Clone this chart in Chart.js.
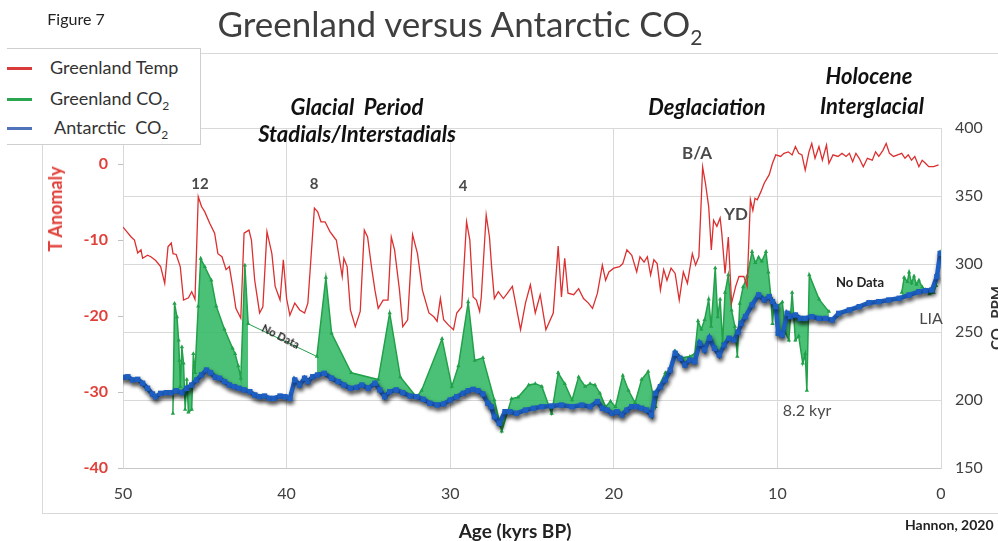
<!DOCTYPE html>
<html>
<head>
<meta charset="utf-8">
<script src="https://cdn.jsdelivr.net/npm/chart.js@4.4.1/dist/chart.umd.min.js"></script>
<style>
  body { margin: 0; background: #fff; }
  #wrap { position: relative; width: 998px; height: 541px; overflow: hidden; font-family: Lato, "Open Sans", sans-serif; }
  #chart { position: absolute; left: 0; top: 0; }
  .t { position: absolute; white-space: nowrap; transform: translate(-50%, -50%); color: #404040; }
  .hd { font-weight: bold; font-style: italic; font-size: 22px; color: #111; }
  .mk { font-size: 15px; font-weight: bold; color: #4a4a4a; }
  #frame { position: absolute; left: 42px; top: 53px; width: 960px; height: 459px; border-top: 1px solid #d9d9d9; border-left: 1px solid #d9d9d9; border-bottom: 1px solid #d9d9d9; }
  #legend { position: absolute; left: 7px; top: 48px; width: 193px; height: 95px; background: #fff; border: 1px solid #cfcfcf; border-left: none; }
  .lg { position: absolute; left: 0; height: 20px; font-size: 18px; color: #333; }
  .lg i { position: absolute; left: 0; top: 9px; width: 25px; height: 3px; }
  .lg span { position: absolute; left: 43px; top: -2px; white-space: nowrap; }
</style>
</head>
<body>
<div id="wrap">
  <div id="frame"></div>
  <canvas id="chart" width="998" height="541"></canvas>
  <div class="t" style="left:76px;top:18px;font-size:16px;color:#222;">Figure 7</div>
  <div class="t" style="left:460px;top:25px;font-size:35px;color:#3f3f3f;">Greenland versus Antarctic CO<sub style="font-size:21px;vertical-align:-8px;">2</sub></div>
  <div id="legend">
    <div class="lg" style="top:9px;"><i style="background:#d93a3a"></i><span>Greenland Temp</span></div>
    <div class="lg" style="top:40px;"><i style="background:#2aa650"></i><span>Greenland CO<sub style="font-size:12px;">2</sub></span></div>
    <div class="lg" style="top:69px;"><i style="background:#4f72b8"></i><span>&nbsp;Antarctic&nbsp; CO<sub style="font-size:12px;">2</sub></span></div>
  </div>
  <div class="t hd" style="left:357px;top:106px;">Glacial&nbsp; Period</div>
  <div class="t hd" style="left:357px;top:133px;">Stadials/Interstadials</div>
  <div class="t hd" style="left:707px;top:106px;">Deglaciation</div>
  <div class="t hd" style="left:869px;top:75px;">Holocene</div>
  <div class="t hd" style="left:872px;top:105px;">Interglacial</div>
  <div class="t mk" style="left:200px;top:183px;">12</div>
  <div class="t mk" style="left:314px;top:183px;">8</div>
  <div class="t mk" style="left:463px;top:185px;">4</div>
  <div class="t mk" style="left:697px;top:152px;font-size:17px;">B/A</div>
  <div class="t mk" style="left:736px;top:213px;font-size:17px;">YD</div>
  <div class="t" style="left:281px;top:336px;font-size:11px;font-weight:bold;color:#222;transform:translate(-50%,-50%) rotate(27deg);">No Data</div>
  <div class="t" style="left:860px;top:282px;font-size:13px;font-weight:bold;color:#222;">No Data</div>
  <div class="t" style="left:931px;top:317px;font-size:16px;color:#4a4a4a;">LIA</div>
  <div class="t" style="left:807px;top:409px;font-size:16px;color:#4a4a4a;">8.2 kyr</div>
  <div class="t" style="left:55px;top:209px;font-size:18px;font-weight:bold;color:#e0403a;transform:translate(-50%,-50%) rotate(-90deg);">T Anomaly</div>
  <div class="t" style="left:997px;top:318px;font-size:15px;font-weight:bold;color:#333;transform:translate(-50%,-50%) rotate(-90deg);">CO<sub style="font-size:10px;">2</sub> PPM</div>
  <div class="t" style="left:515px;top:530px;font-size:19px;font-weight:bold;color:#222;">Age (kyrs BP)</div>
  <div class="t" style="left:905px;top:524px;font-size:14px;font-weight:bold;color:#222;transform:translate(0,-50%);">Hannon, 2020</div>
</div>
<script>
// axis ticks
const ageTicks = [50, 40, 30, 20, 10, 0];
const tempTicks = [-40, -30, -20, -10, 0];
const co2Ticks = [150, 200, 250, 300, 350, 400];

// Greenland temperature anomaly [age kyr BP, T]
const greenlandTemp = [
  [50.0,-8.3],[49.5,-9.6],[49.3,-10.0],[49.1,-11.7],[48.9,-11.3],[48.8,-12.4],[48.5,-12.0],[48.3,-12.2],
  [48.0,-12.7],[47.7,-13.5],[47.45,-15.7],[47.25,-10.9],[47.05,-10.4],[46.94,-11.8],[46.75,-11.9],[46.5,-13.5],
  [46.3,-17.9],[46.0,-17.6],[45.8,-16.8],[45.6,-17.8],[45.4,-4.3],[45.2,-5.6],[45.0,-6.3],[44.7,-7.8],
  [44.4,-9.1],[44.2,-11.8],[43.95,-12.2],[43.7,-13.9],[43.5,-13.5],[43.3,-16.1],[43.1,-19.0],[42.8,-20.3],
  [42.6,-9.1],[42.3,-8.7],[42.15,-10.0],[41.95,-15.3],[41.65,-19.6],[41.45,-18.8],[41.2,-8.9],[40.9,-11.8],
  [40.7,-16.1],[40.4,-17.9],[40.2,-12.6],[40.0,-17.7],[39.8,-19.9],[39.5,-18.3],[39.2,-19.2],[38.9,-19.6],
  [38.7,-18.3],[38.3,-5.8],[38.1,-6.3],[37.9,-7.6],[37.65,-7.6],[37.35,-8.9],[37.04,-9.8],[36.96,-10.0],
  [36.6,-14.8],[36.5,-12.4],[36.3,-13.5],[36.1,-19.2],[35.8,-21.4],[35.5,-19.4],[35.25,-8.7],[35.05,-9.6],
  [34.8,-13.7],[34.6,-16.6],[34.4,-19.0],[34.1,-17.9],[33.8,-17.9],[33.6,-9.6],[33.4,-11.3],[33.1,-16.6],
  [32.9,-21.4],[32.6,-20.5],[32.3,-9.3],[32.0,-11.8],[31.7,-16.6],[31.3,-19.6],[31.0,-20.1],[30.8,-20.7],
  [30.6,-17.7],[30.4,-20.5],[30.1,-21.2],[29.8,-21.8],[29.6,-19.6],[29.3,-18.8],[29.0,-7.6],[28.8,-10.0],
  [28.6,-17.5],[28.4,-17.9],[28.2,-19.4],[28.1,-17.5],[27.8,-6.7],[27.6,-9.6],[27.47,-13.5],[27.3,-17.7],
  [27.06,-16.8],[26.75,-17.7],[26.5,-17.0],[26.2,-16.1],[26.04,-17.9],[25.7,-21.8],[25.4,-18.3],[25.1,-15.9],
  [24.8,-19.6],[24.5,-17.2],[24.15,-21.8],[23.7,-19.6],[23.4,-10.8],[23.2,-17.5],[23.0,-12.4],[22.8,-17.0],
  [22.45,-17.2],[22.15,-16.4],[21.85,-17.7],[21.55,-18.3],[21.3,-19.0],[21.0,-17.0],[20.7,-13.3],[20.5,-15.3],
  [20.3,-14.2],[20.0,-13.7],[19.65,-13.5],[19.45,-13.1],[19.2,-11.3],[18.9,-12.0],[18.6,-14.2],[18.4,-12.2],
  [18.15,-12.9],[17.95,-12.2],[17.75,-14.6],[17.55,-12.6],[17.35,-13.1],[17.15,-16.6],[16.95,-13.9],[16.75,-15.3],
  [16.5,-13.7],[16.25,-14.4],[16.0,-17.9],[15.75,-14.2],[15.5,-15.7],[15.2,-11.8],[15.0,-13.3],[14.8,-12.2],
  [14.57,-0.4],[14.4,-2.5],[14.2,-5.6],[14.04,-11.3],[13.9,-7.4],[13.7,-8.2],[13.5,-7.1],[13.4,-9.1],
  [13.2,-14.4],[13.0,-9.6],[12.8,-18.3],[12.55,-16.1],[12.35,-14.8],[12.05,-14.8],[11.85,-16.1],[11.65,-4.7],
  [11.5,-6.1],[11.37,-4.5],[11.23,-4.7],[11.0,-3.6],[10.8,-2.5],[10.5,-1.4],[10.3,0.1],[10.1,1.2],
  [9.8,1.0],[9.6,1.4],[9.33,1.6],[9.1,1.2],[8.9,2.3],[8.7,1.4],[8.5,1.2],[8.3,-0.8],
  [8.07,1.6],[7.9,2.7],[7.7,0.75],[7.46,2.3],[7.25,0.5],[7.0,2.5],[6.85,0.1],[6.6,1.2],
  [6.3,1.0],[6.05,1.4],[5.8,1.0],[5.6,1.4],[5.4,0.3],[5.2,1.4],[5.0,0.75],[4.75,-0.35],
  [4.5,0.75],[4.2,0.5],[4.0,1.6],[3.8,1.0],[3.55,1.8],[3.35,2.7],[3.15,1.4],[2.9,1.0],
  [2.65,1.2],[2.4,1.4],[2.2,0.75],[2.0,1.2],[1.8,0.5],[1.6,1.0],[1.35,-0.35],[1.15,0.5],
  [0.95,0.1],[0.75,-0.35],[0.45,-0.35],[0.15,-0.1]
];

// Greenland CO2 [age, ppm]; null = no data
const greenlandCo2 = [
  [46.95,190],[46.85,271],[46.7,261],[46.6,244],[46.55,229],[46.5,210],[46.4,239],[46.3,227],
  [46.2,193],[46.1,215],[46.0,191],[45.8,193],[45.7,234],[45.6,220],[45.4,269],[45.25,304],
  [45.0,298],[44.6,288],[44.3,269],[43.8,252],[43.3,238],[43.15,234],[42.95,225],[42.8,216],
  [42.55,299],[42.35,256],[40.0,null],[38.15,232],[37.6,290],[37.25,249],[36.05,220],[34.4,215],
  [33.7,264],[33.05,217],[32.05,202],[31.75,207],[30.5,245],[29.9,210],[29.5,225],[28.9,272],
  [28.5,229],[28.0,231],[27.3,200],[26.85,177],[26.25,201],[25.85,202],[25.2,211],[24.8,212],
  [24.4,210],[23.8,190],[23.4,220],[23.0,212],[22.55,200],[22.15,217],[21.75,210],[21.45,212],
  [21.15,211],[20.85,205],[20.5,195],[20.2,199],[19.9,195],[19.45,218],[19.1,207],[18.7,198],
  [18.3,215],[17.9,221],[17.45,195],[17.25,210],[16.85,220],[16.55,222],[16.25,236],[15.85,231],
  [15.35,232],[15.05,234],[14.85,258],[14.65,252],[14.45,259],[14.2,274],[14.05,254],[13.8,297],
  [13.65,261],[13.5,274],[13.35,242],[13.2,279],[13.0,292],[12.8,266],[12.6,254],[12.45,232],
  [12.3,271],[12.1,283],[11.85,291],[11.55,309],[11.35,301],[11.15,305],[10.95,302],[10.7,309],
  [10.55,294],[10.4,276],[10.3,256],[10.2,272],[10.0,269],[9.7,272],[9.5,249],[9.3,244],
  [9.1,279],[8.9,244],[8.7,247],[8.45,227],[8.3,234],[8.2,207],[8.05,292],[7.45,274],
  [6.85,265],[4.5,null],[2.4,279],[2.25,290],[2.05,287],[1.95,294],[1.8,286],[1.65,291],
  [1.5,285],[1.35,288],[1.15,283],[0.95,281],[0.7,278],[0.45,279],[0.3,284],[0.15,298],[0.05,309]
];

// straight bridge drawn across the first data gap
const noDataBridge = [[42.35,256],[38.15,232]];

// Antarctic CO2 [age, ppm]
const antarcticCo2 = [
  [50.0,216.7],[49.7,217.1],[49.4,214.7],[49.1,215.2],[48.8,212.3],[48.5,208.6],[48.2,204.4],[48.0,202.4],
  [47.7,204.9],[47.35,205.4],[47.05,205.4],[46.75,206.8],[46.4,205.4],[46.1,208.6],[45.8,211],[45.5,214.7],
  [45.2,218.4],[44.9,222],[44.65,220.1],[44.35,216.7],[44.1,216],[43.8,213.5],[43.5,211],[43.2,209.8],
  [42.9,208.6],[42.6,207.4],[42.25,206.1],[41.95,203.7],[41.65,202.4],[41.35,202.9],[41.05,201.2],[40.75,201.2],
  [40.4,202.9],[40.1,202.4],[39.8,201.2],[39.5,214.7],[39.2,211],[38.9,216],[38.7,213.5],[38.4,217.1],
  [38.1,218.4],[37.7,219.6],[37.25,216],[36.85,213.5],[36.5,211],[36.1,208.6],[35.7,209.3],[35.4,211],
  [35.0,208.6],[34.6,212.3],[34.3,207.4],[34.0,202.4],[33.7,206.1],[33.3,207.4],[32.9,205.4],[32.45,202.9],
  [32.05,202.4],[31.65,200.5],[31.25,197.6],[30.8,196.3],[30.4,197.1],[30.0,200],[29.6,202.4],[29.2,204.9],
  [28.9,206.8],[28.6,207.8],[28.3,206.8],[28.0,204.4],[27.7,197.6],[27.5,195.1],[27.3,187.7],[27.0,182.9],
  [26.65,191.4],[26.35,191.4],[25.95,190.2],[25.4,192.6],[24.9,193.9],[24.4,195.1],[23.8,195.6],[23.2,196.3],
  [22.55,195.1],[21.95,196.3],[21.45,195.1],[21.0,198.8],[20.7,193.9],[20.4,192.6],[20.1,190.2],[19.8,191.4],
  [19.5,189],[19.2,192.6],[18.9,195.1],[18.6,195.1],[18.3,193.9],[18.0,192.6],[17.7,189],[17.45,204.9],
  [17.15,209.8],[16.85,214.7],[16.55,222],[16.25,234.3],[15.95,230.6],[15.65,225.7],[15.35,229.4],[15.05,228.2],
  [14.75,241.7],[14.45,236.8],[14.15,245.4],[13.85,238],[13.55,233.1],[13.25,240.4],[12.95,245.4],[12.65,244.1],
  [12.4,250],[12.2,256.4],[11.95,261.3],[11.55,269.9],[11.15,277.2],[10.8,273.5],[10.5,276],[10.3,272.3],
  [10.1,268.6],[9.95,249],[9.7,247.8],[9.4,263.7],[9.2,261.3],[8.9,262.5],[8.6,260],[8.3,260],
  [7.9,261.3],[7.45,260],[7.05,260],[6.65,258.8],[6.25,263.7],[5.6,266.2],[5.0,268.6],[4.4,271.5],
  [3.8,272.3],[3.2,273.5],[2.55,274.8],[1.95,277.2],[1.35,279.6],[0.95,280.4],[0.55,280.9],[0.25,290.7],[0.05,307.8]
];

const toXY = arr => arr.map(p => ({ x: p[0], y: p[1] }));

// shadow under the Antarctic line
const shadowPlugin = {
  id: 'blueShadow',
  beforeDatasetDraw(chart, args) {
    if (args.index !== 3) return;
    const ctx = chart.ctx;
    ctx.save();
    ctx.shadowColor = 'rgba(0,0,0,0.55)';
    ctx.shadowBlur = 4;
    ctx.shadowOffsetX = 1;
    ctx.shadowOffsetY = 3;
  },
  afterDatasetDraw(chart, args) {
    if (args.index === 3) chart.ctx.restore();
  }
};

const gridGrey = '#d9d9d9';

new Chart(document.getElementById('chart'), {
  type: 'line',
  data: {
    datasets: [
      {
        label: 'Greenland Temp',
        data: toXY(greenlandTemp),
        yAxisID: 'yT',
        borderColor: '#dc2f2f',
        borderWidth: 1.3,
        pointRadius: 0,
        fill: false,
        order: 0
      },
      {
        label: 'Greenland CO2',
        data: toXY(greenlandCo2),
        yAxisID: 'yC',
        borderColor: '#22a04a',
        borderWidth: 1.5,
        pointStyle: 'triangle',
        pointRadius: 2.5,
        pointBackgroundColor: '#22a04a',
        pointBorderWidth: 0,
        backgroundColor: 'rgba(44,182,96,0.85)',
        fill: { target: 3 },
        spanGaps: false,
        order: 3
      },
      {
        label: 'no data',
        data: toXY(noDataBridge),
        yAxisID: 'yC',
        borderColor: '#22a04a',
        borderWidth: 1,
        pointRadius: 0,
        fill: false,
        order: 2
      },
      {
        label: 'Antarctic CO2',
        data: toXY(antarcticCo2),
        yAxisID: 'yC',
        borderColor: '#1d5fc2',
        borderWidth: 4.5,
        pointStyle: 'rect',
        pointRadius: 3.8,
        pointBackgroundColor: '#1d5fc2',
        pointBorderWidth: 0,
        fill: false,
        order: 1
      }
    ]
  },
  options: {
    responsive: false,
    animation: false,
    devicePixelRatio: 1,
    layout: { padding: { top: 128, left: 0, right: 0, bottom: 0 } },
    plugins: { legend: { display: false }, tooltip: { enabled: false } },
    scales: {
      x: {
        type: 'linear',
        reverse: true,
        min: 0,
        max: 50,
        afterBuildTicks: axis => { axis.ticks = ageTicks.map(v => ({ value: v })); },
        afterFit: axis => { axis.height = 73; },
        grid: { color: gridGrey, drawTicks: false },
        border: { color: '#c8c8c8' },
        ticks: { padding: 16, color: '#404040', font: { family: 'Lato', size: 16 } }
      },
      yT: {
        position: 'left',
        min: -40,
        max: 4.74,
        afterBuildTicks: axis => { axis.ticks = tempTicks.map(v => ({ value: v })); },
        afterFit: axis => { axis.width = 123; },
        grid: { drawOnChartArea: false, drawTicks: true, tickLength: 5, color: '#bfbfbf' },
        border: { color: gridGrey },
        ticks: { padding: 10, color: '#e0403a', font: { family: 'Lato', size: 16, weight: 'bold' } }
      },
      yC: {
        position: 'right',
        min: 150,
        max: 400,
        afterBuildTicks: axis => { axis.ticks = co2Ticks.map(v => ({ value: v })); },
        afterFit: axis => { axis.width = 57; },
        grid: { color: gridGrey, drawTicks: false },
        border: { color: gridGrey },
        ticks: { padding: 14, color: '#404040', font: { family: 'Lato', size: 16 } }
      }
    }
  },
  plugins: [shadowPlugin]
});
</script>
</body>
</html>
